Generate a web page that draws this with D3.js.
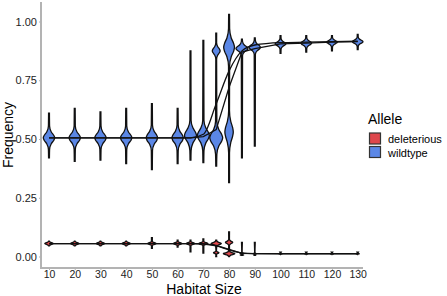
<!DOCTYPE html>
<html>
<head>
<meta charset="utf-8">
<script src="https://cdn.jsdelivr.net/npm/d3@7"></script>
<style>
  body { margin: 0; background: #fff; }
  text { font-family: "Liberation Sans", Arial, sans-serif; }
</style>
</head>
<body>
<div id="chart"></div>
<script>
// habitat sizes on the x axis
const habitat = [10, 20, 30, 40, 50, 60, 65, 70, 75, 80, 85, 90, 100, 110, 120, 130];
const xTicks = [10, 20, 30, 40, 50, 60, 70, 80, 90, 100, 110, 120, 130];
const yTicks = [0, 0.25, 0.5, 0.75, 1];
const alleles = ["deleterious", "wildtype"];

// violin outlines: tail ends and density lobes [centre, half-height, width]
const wildLo = [0.42, 0.405, 0.41, 0.395, 0.37, 0.395, 0.41, 0.40, 0.385, 0.315, 0.42, 0.47, 0.865, 0.87, 0.875, 0.88];
const wildHi = [0.61, 0.63, 0.615, 0.63, 0.65, 0.63, 0.875, 0.92, 0.95, 1.03, 0.925, 0.93, 0.94, 0.94, 0.94, 0.945];
const wildLobes = [
  [[0.505, 0.05, 0.95]],
  [[0.505, 0.05, 0.95]],
  [[0.505, 0.05, 0.95]],
  [[0.505, 0.05, 0.95]],
  [[0.505, 0.055, 0.95]],
  [[0.505, 0.055, 0.95]],
  [[0.515, 0.065, 1.0]],
  [[0.515, 0.065, 1.0]],
  [[0.505, 0.07, 1.08], [0.875, 0.035, 0.65]],
  [[0.53, 0.09, 0.7], [0.89, 0.08, 0.9]],
  [[0.885, 0.03, 1.0]],
  [[0.89, 0.03, 0.95]],
  [[0.905, 0.022, 0.9]],
  [[0.908, 0.022, 0.9]],
  [[0.912, 0.02, 0.88]],
  [[0.914, 0.02, 0.88]]
];

const delLo = [0.045, 0.045, 0.045, 0.045, 0.035, 0.04, 0.02, 0.015, 0.0, 0.0, 0.005, 0.005, 0.008, 0.008, 0.008, 0.008];
const delHi = [0.065, 0.065, 0.065, 0.065, 0.08, 0.07, 0.07, 0.075, 0.07, 0.105, 0.06, 0.06, 0.018, 0.018, 0.018, 0.018];
const delLobes = [
  [[0.055, 0.01, 0.7]],
  [[0.055, 0.01, 0.7]],
  [[0.055, 0.01, 0.7]],
  [[0.055, 0.01, 0.7]],
  [[0.055, 0.01, 0.7]],
  [[0.055, 0.01, 0.7]],
  [[0.055, 0.01, 0.7]],
  [[0.055, 0.01, 0.75]],
  [[0.016, 0.008, 0.45], [0.055, 0.012, 0.85]],
  [[0.012, 0.011, 0.95], [0.06, 0.013, 0.6]],
  [[0.012, 0.006, 0.3]],
  [[0.012, 0.005, 0.25]],
  [[0.012, 0.004, 0.25]],
  [[0.012, 0.004, 0.25]],
  [[0.012, 0.004, 0.25]],
  [[0.012, 0.004, 0.25]]
];

// line through the means and the smoothed trend
const wildMean = [0.505, 0.505, 0.505, 0.505, 0.505, 0.505, 0.505, 0.51, 0.54, 0.72, 0.87, 0.885, 0.905, 0.908, 0.912, 0.914];
const wildSmooth = [0.505, 0.505, 0.505, 0.505, 0.505, 0.505, 0.505, 0.52, 0.65, 0.79, 0.875, 0.90, 0.91, 0.912, 0.914, 0.916];
const delMean = [0.055, 0.055, 0.055, 0.055, 0.055, 0.055, 0.055, 0.055, 0.047, 0.03, 0.013, 0.012, 0.012, 0.012, 0.012, 0.012];
const delSmooth = [0.055, 0.055, 0.055, 0.055, 0.055, 0.055, 0.055, 0.053, 0.045, 0.028, 0.015, 0.012, 0.011, 0.011, 0.011, 0.011];

const colors = {deleterious: "#de474c", wildtype: "#5b87e6"};

const width = 447, height = 296;
const svg = d3.select("#chart").append("svg")
    .attr("width", width)
    .attr("height", height);

const x = d3.scaleLinear().domain([10, 130]).range([49, 357.7]);
const y = d3.scaleLinear().domain([0, 1]).range([256.5, 21.5]);
const w = d3.scaleLinear().domain([0, 1]).range([0, 6]);

const panel = {left: 41, right: 363, top: 2, bottom: 268};

// turn tails + lobes into outline knots
function knots(lo, hi, lobes) {
    let pts = [[lo, 0.07]];
    lobes.slice().sort((a, b) => a[0] - b[0]).forEach(([c, h, m]) => {
        pts.push([c - h, 0.1 * m], [c - 0.5 * h, 0.4 * m], [c - 0.2 * h, 0.85 * m], [c, m],
                 [c + 0.2 * h, 0.85 * m], [c + 0.5 * h, 0.4 * m], [c + h, 0.1 * m]);
    });
    pts.push([hi, 0.07]);
    return pts;
}

function violin(cx) {
    return d3.area()
        .y(d => y(d[0]))
        .x0(d => cx - w(d[1]))
        .x1(d => cx + w(d[1]))
        .curve(d3.curveMonotoneY);
}

const violins = [];
habitat.forEach((h, i) => {
    violins.push({allele: "deleterious", h: h, pts: knots(delLo[i], delHi[i], delLobes[i])});
    violins.push({allele: "wildtype", h: h, pts: knots(wildLo[i], wildHi[i], wildLobes[i])});
});

svg.append("g").selectAll("path")
    .data(violins)
    .enter().append("path")
    .attr("d", d => violin(x(d.h))(d.pts))
    .attr("fill", d => colors[d.allele])
    .attr("stroke", "#111")
    .attr("stroke-width", 1.3);

const meanLine = d3.line()
    .x((d, i) => x(habitat[i]))
    .y(d => y(d));

const smoothLine = d3.line()
    .x((d, i) => x(habitat[i]))
    .y(d => y(d))
    .curve(d3.curveMonotoneX);

[wildMean, delMean].forEach(s => {
    svg.append("path")
        .attr("d", meanLine(s))
        .attr("fill", "none")
        .attr("stroke", "#111")
        .attr("stroke-width", 1.3);
});
[wildSmooth, delSmooth].forEach(s => {
    svg.append("path")
        .attr("d", smoothLine(s))
        .attr("fill", "none")
        .attr("stroke", "#111")
        .attr("stroke-width", 1.3);
});

// axes
const xAxis = svg.append("g")
    .attr("transform", `translate(0,${panel.bottom})`)
    .call(d3.axisBottom(x).tickValues(xTicks).tickSize(2).tickPadding(1));
xAxis.select(".domain").remove();
xAxis.append("line")
    .attr("x1", panel.left).attr("x2", panel.right)
    .attr("stroke", "#b3b3b3").attr("stroke-width", 2);

const yAxis = svg.append("g")
    .attr("transform", `translate(${panel.left},0)`)
    .call(d3.axisLeft(y).tickValues(yTicks).tickFormat(d3.format(".2f")).tickSize(2).tickPadding(2));
yAxis.select(".domain").remove();
yAxis.append("line")
    .attr("y1", panel.top).attr("y2", panel.bottom + 1)
    .attr("stroke", "#b3b3b3").attr("stroke-width", 2);

svg.selectAll(".tick line").attr("stroke", "#b3b3b3");
svg.selectAll(".tick text")
    .attr("fill", "#222")
    .attr("font-family", "Liberation Sans, Arial, sans-serif");
xAxis.selectAll(".tick text").attr("font-size", 10.5);
yAxis.selectAll(".tick text").attr("font-size", 11);

// axis titles
svg.append("text")
    .attr("x", (panel.left + panel.right) / 2 + 2)
    .attr("y", 294)
    .attr("text-anchor", "middle")
    .attr("font-size", 14)
    .attr("fill", "#000")
    .text("Habitat Size");

svg.append("text")
    .attr("transform", `translate(13,${(panel.top + panel.bottom) / 2}) rotate(-90)`)
    .attr("text-anchor", "middle")
    .attr("font-size", 14)
    .attr("fill", "#000")
    .text("Frequency");

// legend
const legend = svg.append("g").attr("transform", "translate(368,0)");
legend.append("text")
    .attr("x", 0).attr("y", 124)
    .attr("font-size", 14)
    .text("Allele");
alleles.forEach((a, i) => {
    legend.append("rect")
        .attr("x", 1.5).attr("y", 133 + i * 13.5)
        .attr("width", 11).attr("height", 11)
        .attr("fill", colors[a])
        .attr("stroke", "#333")
        .attr("stroke-width", 1.2);
    legend.append("text")
        .attr("x", 20).attr("y", 143 + i * 13.5)
        .attr("font-size", 11)
        .text(a);
});
</script>
</body>
</html>
